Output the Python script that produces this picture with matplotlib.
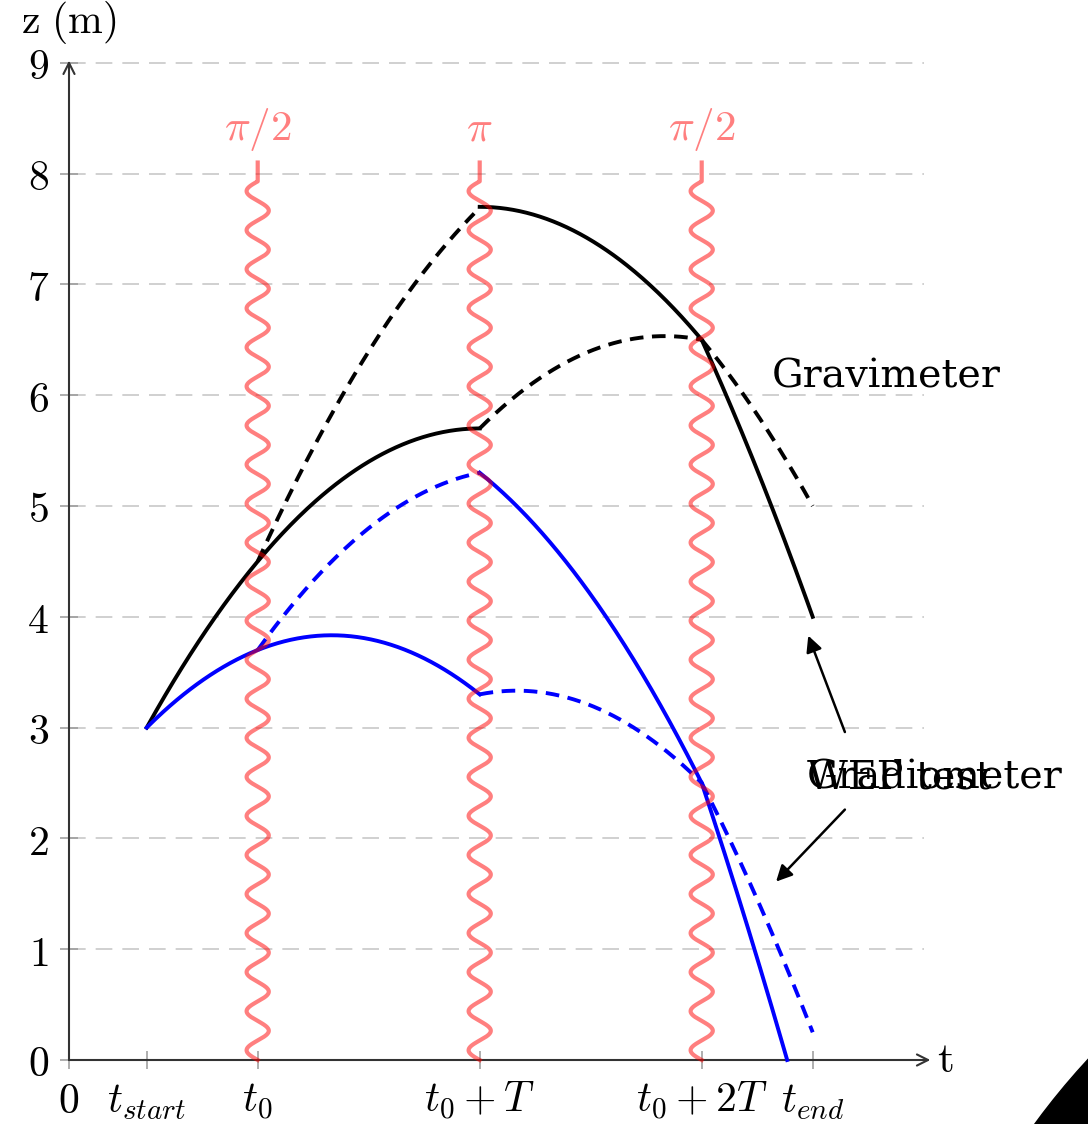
import matplotlib.pyplot as plt
import numpy as np
from matplotlib.patches import Circle

plt.rcParams['mathtext.fontset'] = 'cm'

# times of the laser pulses and their labels
pulse_t = [1.7, 3.7, 5.7]
pulse_labels = [r'$\pi/2$', r'$\pi$', r'$\pi/2$']

# axis ticks
xtick_pos = [0, 0.7, 1.7, 3.7, 5.7, 6.7]
xtick_labels = [r'$0$', r'$t_{start}$', r'$t_0$', r'$t_0+T$', r'$t_0+2T$', r'$t_{end}$']
ytick_pos = list(range(10))

# trajectory segments (t1, z1, t2, z2)
black_solid = [(0.7, 3.0, 3.7, 5.7), (3.7, 7.7, 5.7, 6.5), (5.7, 6.5, 6.7, 4.0)]
black_dashed = [(1.7, 4.5, 3.65, 7.64), (3.7, 5.7, 5.7, 6.5), (5.7, 6.5, 6.7, 5.0)]
blue_solid = [(0.7, 3.0, 3.7, 3.3), (3.7, 5.3, 5.7, 2.5), (5.7, 2.5, 6.47, 0.0)]
blue_dashed = [(1.7, 3.7, 3.7, 5.3), (3.7, 3.3, 5.7, 2.5), (5.7, 2.5, 6.7, 0.25)]
half_g = 0.3  # curvature of the free-fall arcs

# text labels
name_labels = ['Gravimeter', 'Gradiometer', 'WEP test']
name_pos = [(6.33, 6.07), (6.65, 2.45), (6.65, 2.45)]
arrows = [((6.99, 2.96), (6.66, 3.83)), ((6.99, 2.26), (6.37, 1.61))]


def arc(t1, z1, t2, z2):
    """ Free-fall parabola between two end points. """
    t = np.linspace(t1, t2, 200)
    z = z1 + (z2 - z1) * (t - t1) / (t2 - t1) + half_g * (t - t1) * (t2 - t)
    return t, z


fig = plt.figure(figsize=(10.88, 11.24), dpi=100)
ax = fig.add_axes([69 / 1088, 64 / 1124, 7.7 * 111 / 1088, 9 * 110.8 / 1124])
ax.set_xlim(0, 7.7)
ax.set_ylim(0, 9)
for s in ax.spines.values():
    s.set_visible(False)

# grid
ax.hlines(range(1, 10), 0, 7.7, colors='#c8c8c8', lw=1.2,
          linestyles=(0, (10, 6)), zorder=1, clip_on=False)

# axes with arrows
ax.annotate('', xy=(7.76, 0), xytext=(0, 0), annotation_clip=False,
            arrowprops=dict(arrowstyle='->', color='#333333', lw=1.5, mutation_scale=20,
                            shrinkA=0, shrinkB=0))
ax.annotate('', xy=(0, 9.02), xytext=(0, 0), annotation_clip=False,
            arrowprops=dict(arrowstyle='->', color='#333333', lw=1.5, mutation_scale=20,
                            shrinkA=0, shrinkB=0))

ax.set_xticks(xtick_pos)
ax.set_xticklabels(xtick_labels, fontsize=30)
ax.set_yticks(ytick_pos)
ax.set_yticklabels([f'${v}$' for v in ytick_pos], fontsize=30)
ax.tick_params(direction='inout', length=13, width=1.1, color='#999999', pad=8)

ax.text(0, 9.36, r'$\mathrm{z\ (m)}$', fontsize=30, ha='center', va='center')
ax.text(7.89, 0.0, r'$\mathrm{t}$', fontsize=31, ha='center', va='center')

# trajectories
for segs, color, ls in [(black_solid, 'black', '-'), (black_dashed, 'black', (0, (3.5, 2.2))),
                        (blue_solid, 'blue', '-'), (blue_dashed, 'blue', (0, (3.5, 2.2)))]:
    for seg in segs:
        t, z = arc(*seg)
        ax.plot(t, z, color=color, lw=2.8, ls=ls, zorder=3, clip_on=False)

# laser pulses
z_wave = np.linspace(0, 7.93, 3000)
period = 7.93 / 22.5
for tp, lab in zip(pulse_t, pulse_labels):
    x_wave = tp - 0.1 * np.sin(2 * np.pi * z_wave / period)
    ax.plot(np.append(x_wave, [tp, tp]), np.append(z_wave, [7.93, 8.1]),
            color='red', alpha=0.5, lw=3.0, zorder=4, clip_on=False)
    ax.text(tp, 8.3, lab, color='#ff7f7f', fontsize=31, ha='center', va='baseline')

# experiment labels
for lab, (x, y) in zip(name_labels, name_pos):
    ax.text(x, y, lab, fontsize=28.5, family='DejaVu Serif', ha='left', va='baseline')
for start, end in arrows:
    ax.annotate('', xy=end, xytext=start, annotation_clip=False,
                arrowprops=dict(arrowstyle='-|>', color='black', lw=1.8, mutation_scale=24,
                                shrinkA=0, shrinkB=0))

# dark corner
fig.add_artist(Circle((16.2, -4.28), 7.25, transform=fig.dpi_scale_trans,
                      color='black', zorder=10))

fig.savefig('out.png', dpi=100)
